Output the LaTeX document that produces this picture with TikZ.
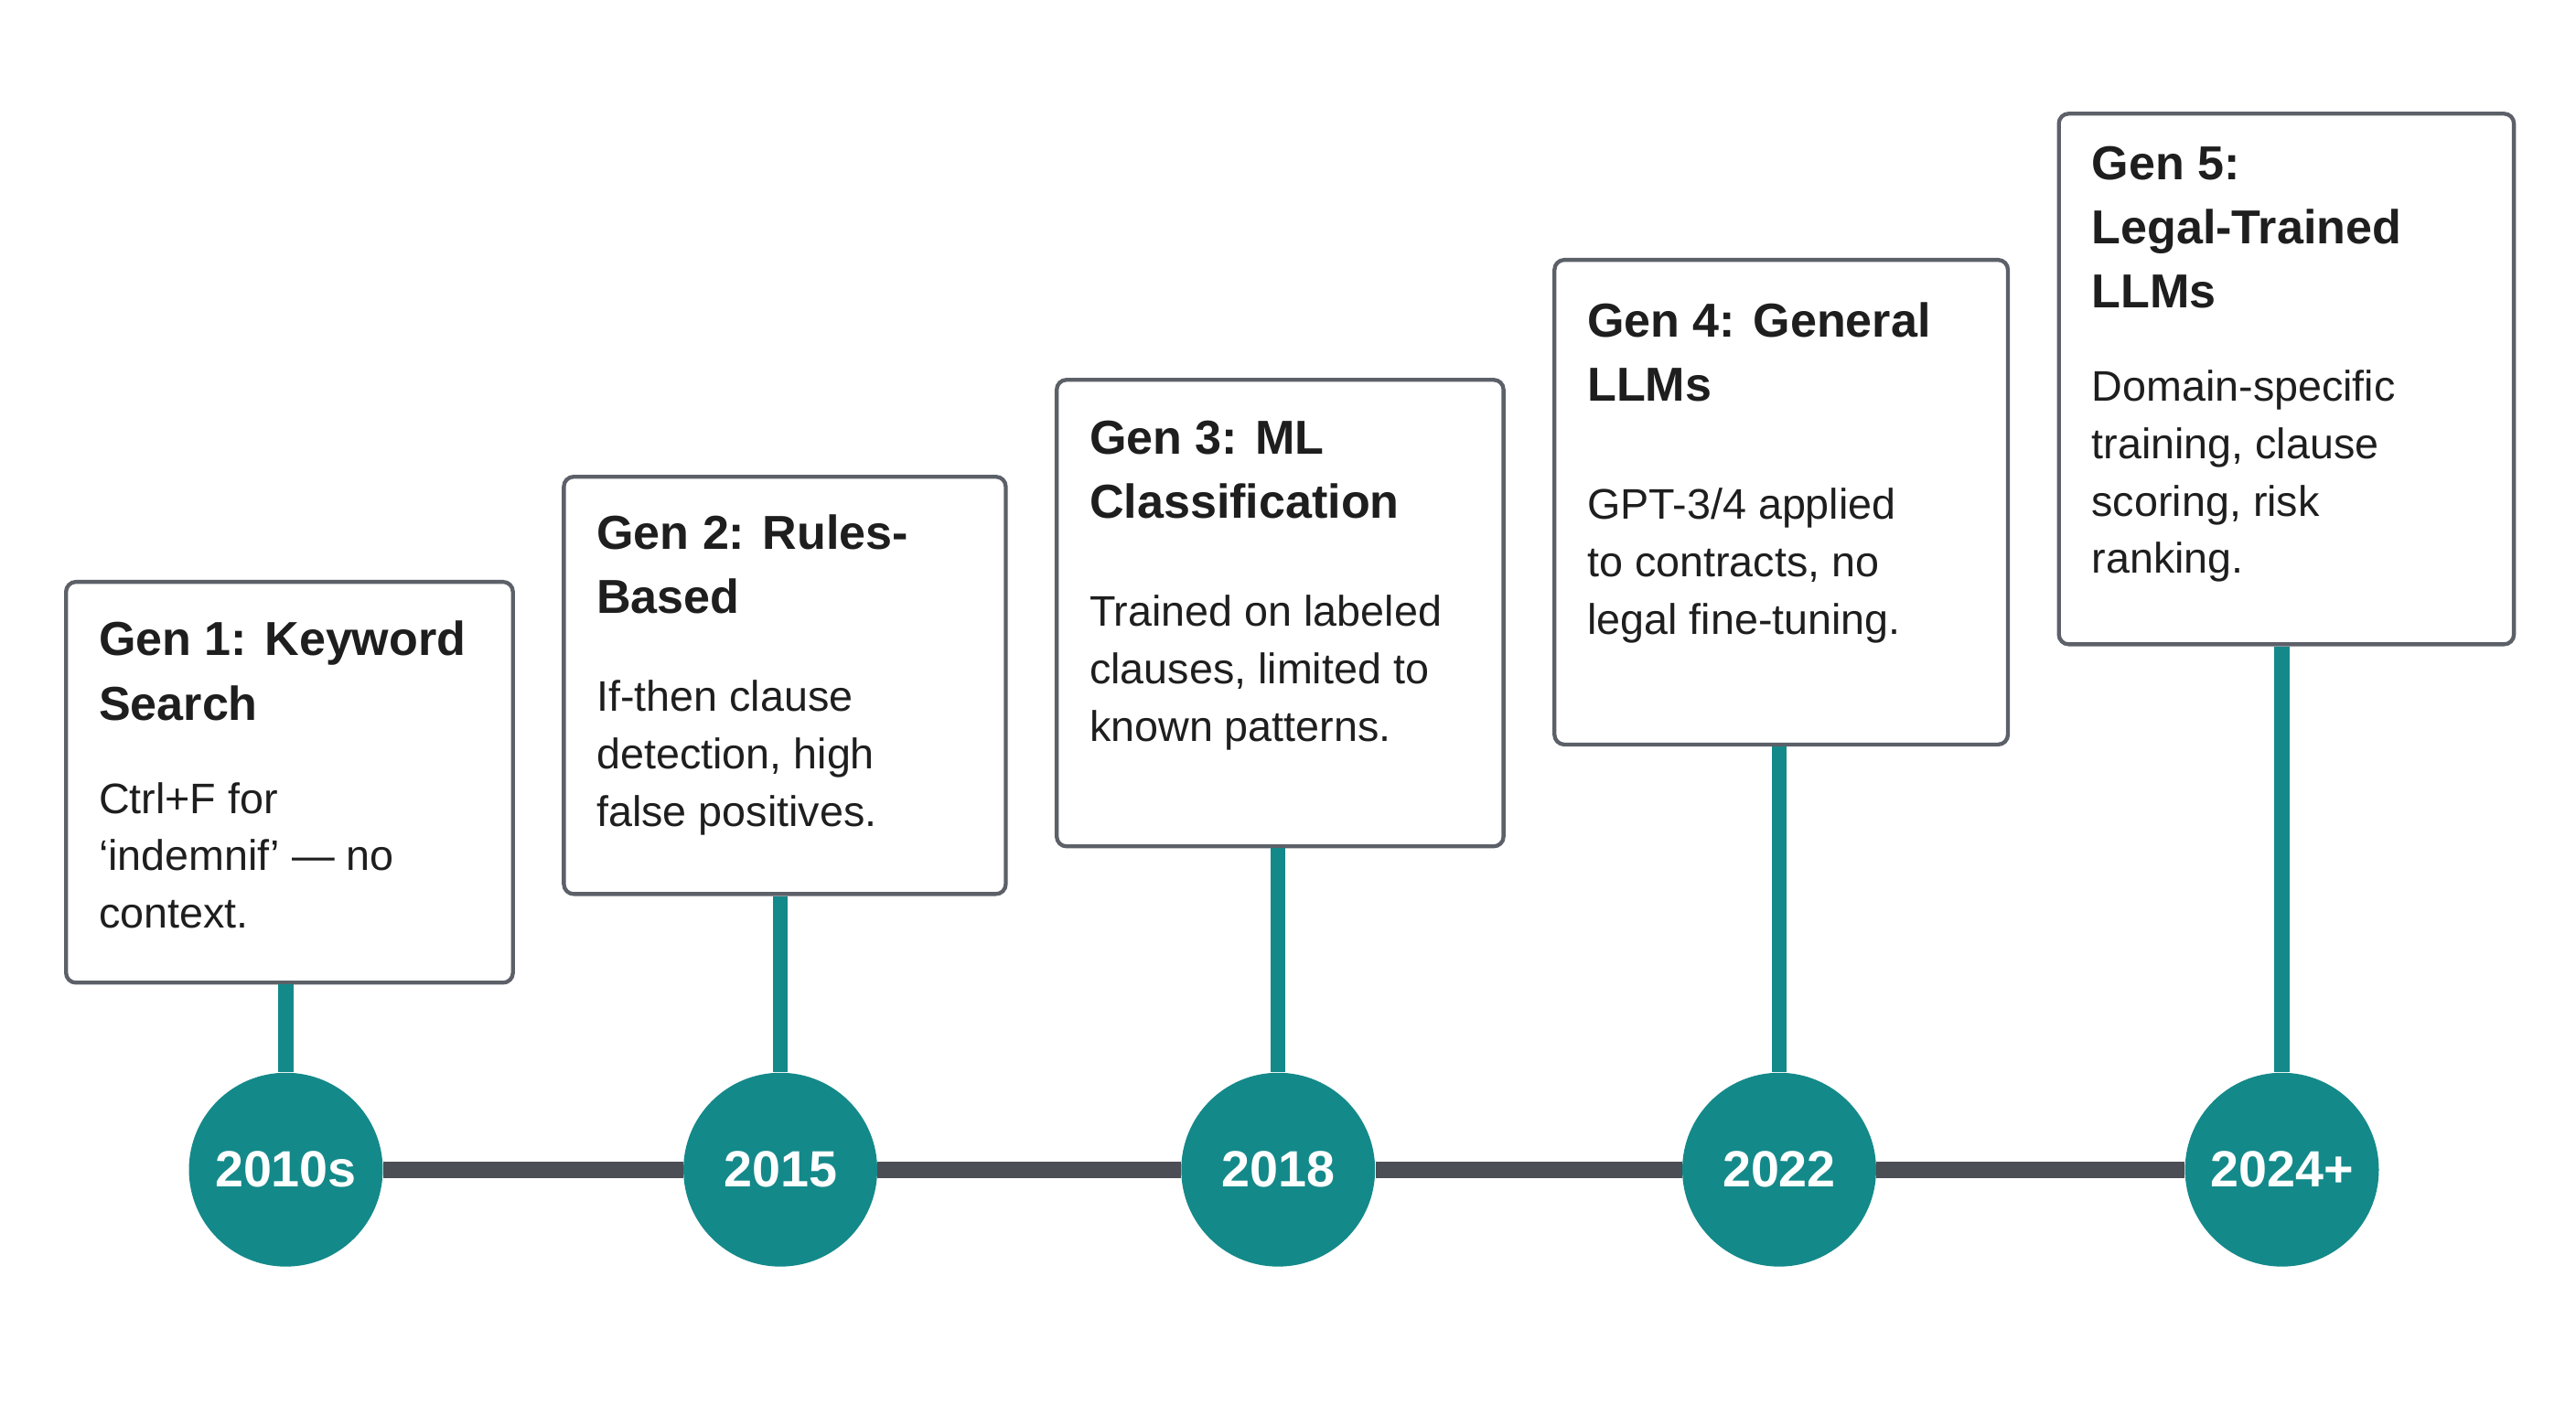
\documentclass[tikz,border=0pt]{standalone}
\usepackage{fontspec}
\setmainfont{Liberation Sans}
\definecolor{teal1}{HTML}{14898A}
\definecolor{axis}{HTML}{4B4E55}
\definecolor{frame}{HTML}{5C6068}
\definecolor{ink}{HTML}{1E1E1E}
\begin{document}
\begin{tikzpicture}[x=1pt,y=-1pt,
  card/.style={draw=frame,line width=2.4pt,rounded corners=6pt,fill=white,anchor=north west,inner sep=0pt},
  body/.style={anchor=north west,align=left,inner sep=0pt,text=ink,font=\fontsize{26}{35}\selectfont},
  head/.style={anchor=north west,align=left,inner sep=0pt,text=ink,font=\bfseries\fontsize{29}{39}\selectfont},
  dot/.style={circle,fill=teal1,minimum size=118pt,inner sep=0pt,text=white,font=\bfseries\fontsize{31}{36}\selectfont},
  stem/.style={draw=teal1,line width=9pt},
  tl/.style={draw=axis,line width=10pt}]
\useasboundingbox (0,0) rectangle (1568,855);
\node[card,minimum width=272pt,minimum height=244pt] (b1) at (39,353) {};
\node[card,minimum width=269pt,minimum height=254pt] (b2) at (342,289) {};
\node[card,minimum width=272pt,minimum height=284pt] (b3) at (642,230) {};
\node[card,minimum width=276pt,minimum height=295pt] (b4) at (945,157) {};
\node[card,minimum width=277pt,minimum height=323pt] (b5) at (1252,68) {};
\node[dot] (c1) at (174,712) {2010s};
\node[dot] (c2) at (475,712) {2015};
\node[dot] (c3) at (778,712) {2018};
\node[dot] (c4) at (1083,712) {2022};
\node[dot] (c5) at (1389,712) {2024+};
\draw[stem] (b1.south -| c1) -- (c1.north);
\draw[stem] (b2.south -| c2) -- (c2.north);
\draw[stem] (b3.south -| c3) -- (c3.north);
\draw[stem] (b4.south -| c4) -- (c4.north);
\draw[stem] (b5.south -| c5) -- (c5.north);
\draw[tl] (c1.east) -- (c2.west);
\draw[tl] (c2.east) -- (c3.west);
\draw[tl] (c3.east) -- (c4.west);
\draw[tl] (c4.east) -- (c5.west);
\node[head] (h1) at (60,378) {Gen 1: Keyword\\Search};
\node[body] (t1) at (60,476) {Ctrl+F for\\‘indemnif’ — no\\context.};
\node[head] (h2) at (363,313) {Gen 2: Rules-\\Based};
\node[body] (t2) at (363,414) {If-then clause\\detection, high\\false positives.};
\node[head] (h3) at (663,256) {Gen 3: ML\\Classification};
\node[body] (t3) at (663,362) {Trained on labeled\\clauses, limited to\\known patterns.};
\node[head] (h4) at (966,184) {Gen 4: General\\LLMs};
\node[body] (t4) at (966,297) {GPT-3/4 applied\\to contracts, no\\legal fine-tuning.};
\node[head] (h5) at (1273,89) {Gen 5:\\Legal-Trained\\LLMs};
\node[body] (t5) at (1273,225) {Domain-specific\\training, clause\\scoring, risk\\ranking.};
\end{tikzpicture}
\end{document}
